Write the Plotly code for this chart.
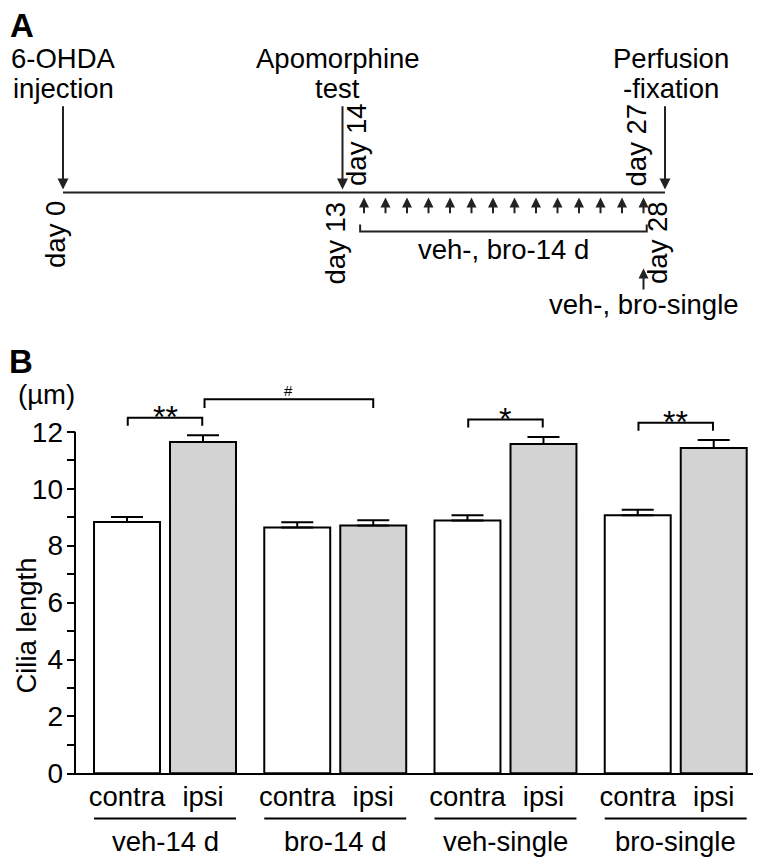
import plotly.graph_objects as go

# Page geometry: default 8px body margin; the photo comes out ~0.98 vertically,
# so vertical pixel positions (given in reference pixels) are converted with K.
OFF = 8
K = 0.98
W, H = 762 - 2 * OFF, 866
FONT = "Liberation Sans, Arial, Helvetica, sans-serif"
INK = "#222222"

# ---------------- Panel B data ----------------
groups = ["veh-14 d", "bro-14 d", "veh-single", "bro-single"]
side_labels = ["contra", "ipsi"]
contra_mean = [8.83, 8.64, 8.88, 9.07]
contra_se = [0.18, 0.18, 0.19, 0.19]
ipsi_mean = [11.64, 8.71, 11.57, 11.43]
ipsi_se = [0.24, 0.18, 0.25, 0.28]
y_tick_values = [0, 1, 2, 3, 4, 5, 6, 7, 8, 9, 10, 11, 12]
y_tick_text = ["0", "", "2", "", "4", "", "6", "", "8", "", "10", "", "12"]
within_sig = ["**", "", "*", "**"]          # contra vs ipsi in each group
between_sig = "#"                            # ipsi veh-14 d vs ipsi bro-14 d
between_groups = [0, 1]

# ---------------- Panel A data ----------------
event_days = [0, 13, 28]
event_line1 = ["6-OHDA", "Apomorphine", "Perfusion"]
event_line2 = ["injection", "test", "-fixation"]
day_marks_below = [0, 13, 28]
day_marks_above = [14, 27]
daily_dose_days = [14, 15, 16, 17, 18, 19, 20, 21, 22, 23, 24, 25, 26, 27]
single_dose_day = 27
daily_label = "veh-, bro-14 d"
single_label = "veh-, bro-single"


# ---------------- helpers (reference pixel -> paper) ----------------
def pxx(p):
    return (p - OFF) / W


def pyy(p):
    return 1 - (p / K - OFF) / H


def mid_from_baseline(b, fs):
    return b - 0.3465 * fs


FS = 27.5

# Panel B geometry
PITCH = 2.24
BAR_W = 0.868
X0_PX, UNIT = 127.0, 76.0
Y0_PX, YUNIT = 772.0, 28.417
Y_TOP = 14
x_contra = [g * PITCH for g in range(len(groups))]
x_ipsi = [g * PITCH + 1 for g in range(len(groups))]

# Panel A geometry
DAY0_PX, DAY_PX = 63.0, 21.5
TL_Y = 192

fig = go.Figure()

fig.add_trace(go.Bar(
    x=x_contra, y=contra_mean, width=BAR_W, name="contra",
    marker=dict(color="white", line=dict(color="black", width=2)),
    error_y=dict(type="data", array=contra_se, arrayminus=[0] * len(contra_se),
                 symmetric=False, thickness=2, width=16, color="black"),
    hoverinfo="skip"))
fig.add_trace(go.Bar(
    x=x_ipsi, y=ipsi_mean, width=BAR_W, name="ipsi",
    marker=dict(color="#d3d3d3", line=dict(color="black", width=2)),
    error_y=dict(type="data", array=ipsi_se, arrayminus=[0] * len(ipsi_se),
                 symmetric=False, thickness=2, width=16, color="black"),
    hoverinfo="skip"))

# timeline (panel A)
fig.add_trace(go.Scatter(
    x=[event_days[0], event_days[-1]], y=[TL_Y, TL_Y], xaxis="x2", yaxis="y2",
    mode="lines", line=dict(color=INK, width=2), hoverinfo="skip", showlegend=False))

shapes = []
ann = []

# ---- Panel A annotations ----
ann.append(dict(text="<b>A</b>", x=pxx(8), y=pyy(mid_from_baseline(37, 33)), xref="paper", yref="paper",
                xanchor="left", yanchor="middle", showarrow=False, font=dict(size=33, color="black")))
ev_shift = [0, -5, 6]
for d, l1, l2, sh in zip(event_days, event_line1, event_line2, ev_shift):
    ann.append(dict(text=l1, x=d, y=mid_from_baseline(68, FS), xref="x2", yref="y2", xshift=sh,
                    xanchor="center", yanchor="middle", showarrow=False))
    ann.append(dict(text=l2, x=d, y=mid_from_baseline(98, FS), xref="x2", yref="y2", xshift=sh,
                    xanchor="center", yanchor="middle", showarrow=False))
    ann.append(dict(text="", x=d, y=TL_Y - 3, xref="x2", yref="y2", showarrow=True,
                    ax=0, ay=-83 / K, arrowhead=2, arrowsize=1.1, arrowwidth=2, arrowcolor=INK))
for d in daily_dose_days:
    ann.append(dict(text="", x=d, y=TL_Y + 5, xref="x2", yref="y2", showarrow=True,
                    ax=0, ay=17 / K, arrowhead=2, arrowsize=1.0, arrowwidth=2, arrowcolor=INK))
ann.append(dict(text="", x=single_dose_day, y=268, xref="x2", yref="y2", showarrow=True,
                ax=0, ay=22 / K, arrowhead=2, arrowsize=1.0, arrowwidth=2, arrowcolor=INK))
for d in day_marks_below:
    ann.append(dict(text=f"day {d}", x=d, y=199, xref="x2", yref="y2", xshift=-7, textangle=-90,
                    xanchor="center", yanchor="top", showarrow=False))
for d in day_marks_above:
    ann.append(dict(text=f"day {d}", x=d, y=188, xref="x2", yref="y2", xshift=-7, textangle=-90,
                    xanchor="center", yanchor="bottom", showarrow=False))
d0, d1 = daily_dose_days[0] - 0.18, daily_dose_days[-1] + 0.15
shapes.append(dict(type="path", xref="x2", yref="y2",
                   path=f"M {d0},224 L {d0},231 L {d1},231 L {d1},224",
                   line=dict(color=INK, width=2)))
ann.append(dict(text=daily_label, x=sum(daily_dose_days) / len(daily_dose_days),
                y=mid_from_baseline(258, FS), xref="x2", yref="y2",
                xanchor="center", yanchor="middle", showarrow=False))
ann.append(dict(text=single_label, x=single_dose_day, y=mid_from_baseline(313, FS), xref="x2", yref="y2",
                xanchor="center", yanchor="middle", showarrow=False))

# ---- Panel B annotations ----
ann.append(dict(text="<b>B</b>", x=pxx(7), y=pyy(mid_from_baseline(372, 33)), xref="paper", yref="paper",
                xanchor="left", yanchor="middle", showarrow=False, font=dict(size=33, color="black")))
ann.append(dict(text="(µm)", x=pxx(46), y=pyy(mid_from_baseline(403, FS)), xref="paper", yref="paper",
                xanchor="center", yanchor="middle", showarrow=False))
ann.append(dict(text="Cilia length", x=pxx(9), y=pyy(625), xref="paper", yref="paper",
                textangle=-90, xanchor="left", yanchor="middle", showarrow=False))
for g, name in enumerate(groups):
    ann.append(dict(text=name, x=g * PITCH + 0.5, y=pyy(mid_from_baseline(850, FS)), xref="x", yref="paper",
                    xanchor="center", yanchor="middle", showarrow=False))
    shapes.append(dict(type="line", xref="x", yref="paper",
                       x0=g * PITCH - BAR_W / 2, x1=g * PITCH + 1 + BAR_W / 2,
                       y0=pyy(817), y1=pyy(817), line=dict(color="black", width=2)))

# within-group brackets
LEG_GAP, LEG_H = 0.33, 0.28
tops = {}
for g, s in enumerate(within_sig):
    if not s:
        continue
    base = max(contra_mean[g] + contra_se[g], ipsi_mean[g] + ipsi_se[g]) + LEG_GAP
    top = base + LEG_H
    tops[g] = top
    xa, xb = x_contra[g] + 0.01, x_ipsi[g] - 0.01
    shapes.append(dict(type="path", xref="x", yref="y",
                       path=f"M {xa},{base} L {xa},{top} L {xb},{top} L {xb},{base}",
                       line=dict(color="black", width=2)))
    ann.append(dict(text=s, x=(xa + xb) / 2, y=top, xref="x", yref="y", yshift=1,
                    xanchor="center", yanchor="middle", showarrow=False, font=dict(size=32)))

# between-group bracket
ga, gb = between_groups
base = tops.get(ga, max(ipsi_mean) + 0.5) + 0.35
top = base + 0.3
xa, xb = x_ipsi[ga] + 0.02, x_ipsi[gb]
shapes.append(dict(type="path", xref="x", yref="y",
                   path=f"M {xa},{base} L {xa},{top} L {xb},{top} L {xb},{base}",
                   line=dict(color="black", width=2)))
ann.append(dict(text=between_sig, x=(xa + xb) / 2, y=top, xref="x", yref="y", yshift=9,
                xanchor="center", yanchor="middle", showarrow=False, font=dict(size=15)))

# y axis line (0..12)
shapes.append(dict(type="line", xref="paper", yref="y", x0=pxx(75), x1=pxx(75),
                   y0=y_tick_values[0], y1=y_tick_values[-1], line=dict(color="black", width=2)))

fig.update_layout(
    width=W, height=H, margin=dict(l=0, r=0, t=0, b=0),
    paper_bgcolor="white", plot_bgcolor="rgba(0,0,0,0)",
    showlegend=False, barmode="overlay",
    font=dict(family=FONT, size=FS, color="black"),
    xaxis=dict(domain=[pxx(67), pxx(753)],
               range=[(67 - X0_PX) / UNIT, (753 - X0_PX) / UNIT],
               tickvals=x_contra + x_ipsi,
               ticktext=[side_labels[0]] * len(groups) + [side_labels[1]] * len(groups),
               ticks="", tickangle=0, ticklabelstandoff=-2,
               showline=True, linecolor="black", linewidth=2,
               showgrid=False, zeroline=False, tickfont=dict(size=FS)),
    yaxis=dict(domain=[pyy(Y0_PX), pyy(Y0_PX - Y_TOP * YUNIT)], range=[0, Y_TOP],
               tickvals=y_tick_values, ticktext=y_tick_text,
               ticks="inside", ticklen=8, tickwidth=2, tickcolor="black",
               ticklabelstandoff=3,
               showline=False, showgrid=False, zeroline=False, tickfont=dict(size=28)),
    xaxis2=dict(domain=[0, 1], range=[(OFF - DAY0_PX) / DAY_PX, (OFF + W - DAY0_PX) / DAY_PX],
                anchor="y2", visible=False),
    yaxis2=dict(domain=[0, 1], range=[(H + OFF) * K, OFF * K], anchor="x2", visible=False),
    shapes=shapes, annotations=ann,
)

fig.write_html("out.html")
